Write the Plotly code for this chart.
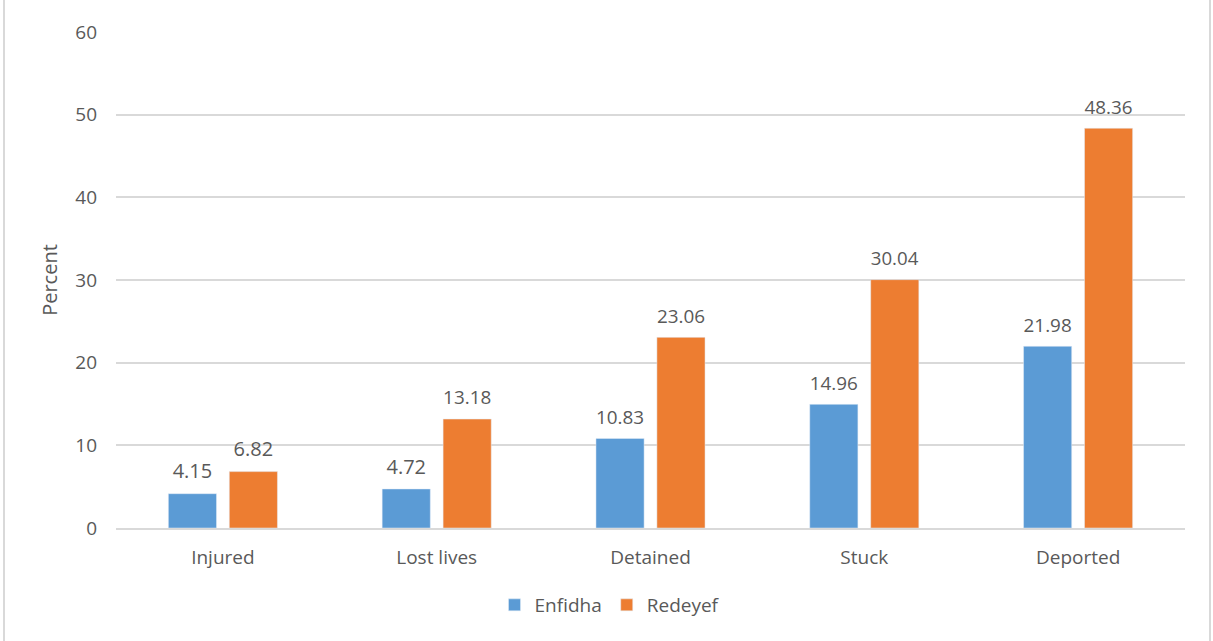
import plotly.graph_objects as go

categories = ["Injured", "Lost lives", "Detained", "Stuck", "Deported"]
enfidha = [4.15, 4.72, 10.83, 14.96, 21.98]
redeyef = [6.82, 13.18, 23.06, 30.04, 48.36]
y_ticks = [0, 10, 20, 30, 40, 50, 60]

FONT = "Open Sans"
TXT = "#595959"

def labels(vals):
    # small trailing blank line lifts the label off the bar, as in the reference
    return [f"<span style='font-size:20px'>{v:.2f}</span><br>\u00a0" for v in vals]

fig = go.Figure()
fig.add_trace(go.Bar(
    name="Enfidha", x=categories, y=enfidha,
    marker=dict(color="#5B9BD5"),
    text=labels(enfidha), textposition="outside",
    textfont=dict(size=8, color=TXT, family=FONT), cliponaxis=False,
))
fig.add_trace(go.Bar(
    name="Redeyef", x=categories, y=redeyef,
    marker=dict(color="#ED7D31"),
    text=labels(redeyef), textposition="outside",
    textfont=dict(size=8, color=TXT, family=FONT), cliponaxis=False,
))

L, R, T, B = 116, 28, 32, 113
W, H = 1213, 641
pw, ph = W - L - R, H - T - B

fig.update_layout(
    width=W, height=H,
    margin=dict(l=L, r=R, t=T, b=B),
    paper_bgcolor="white", plot_bgcolor="white",
    barmode="group", bargap=0.43, bargroupgap=0.21,
    font=dict(family=FONT, color=TXT, size=19),
    showlegend=True,
    legend=dict(orientation="h", x=(610 - L) / pw, xanchor="center",
                y=-(605 - (T + ph)) / ph, yanchor="middle",
                font=dict(size=19, color=TXT, family=FONT),
                itemwidth=30, traceorder="normal"),
    xaxis=dict(showgrid=False, showline=True, linecolor="#D9D9D9", linewidth=2,
               ticks="", tickfont=dict(size=19, color=TXT), ticklabelstandoff=11),
    yaxis=dict(range=[0, 60], tickvals=y_ticks, showgrid=True, gridcolor="#D9D9D9",
               gridwidth=2, zeroline=False, showline=False, ticks="",
               tickfont=dict(size=19, color=TXT), ticklabelstandoff=18,
               title=dict(text="Percent", font=dict(size=20, color=TXT), standoff=12)),
    shapes=[dict(type="rect", xref="paper", yref="paper",
                 x0=(4 - L) / pw, x1=(1210 - L) / pw,
                 y0=-(H + 5 - T - ph) / ph, y1=(ph + T + 5) / ph,
                 line=dict(color="#D9D9D9", width=2), fillcolor="rgba(0,0,0,0)", layer="below")],
)

fig.write_html("out.html")
